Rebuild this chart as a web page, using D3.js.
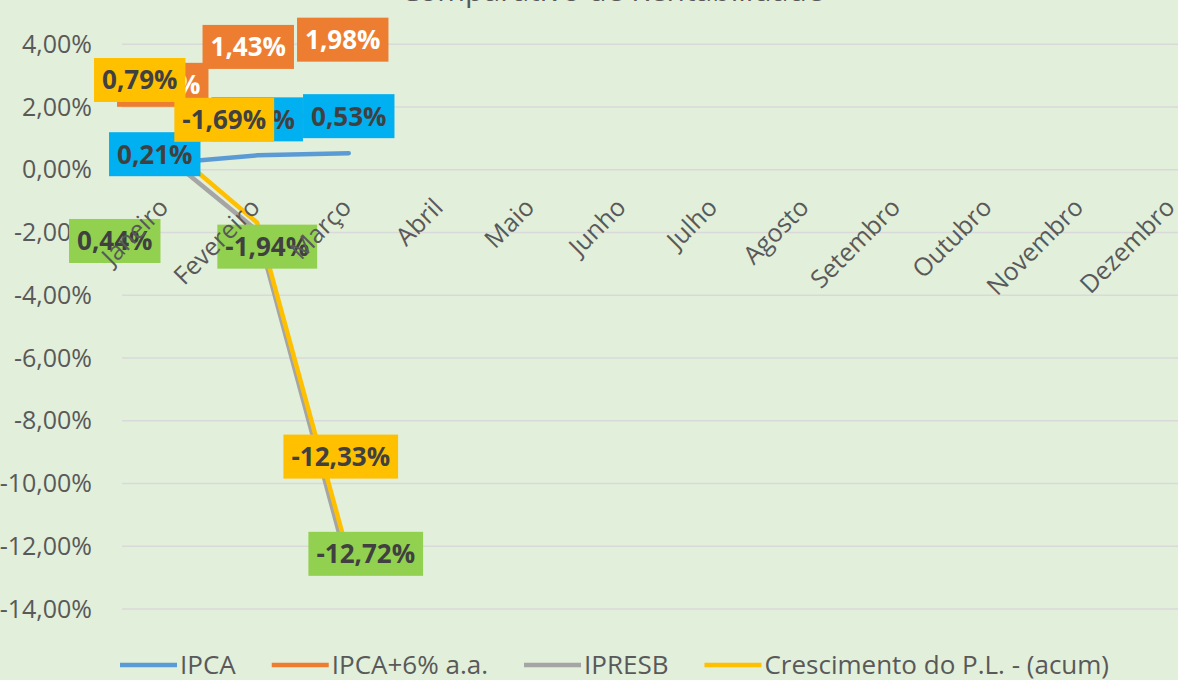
<!DOCTYPE html>
<meta charset="utf-8">
<style>
body { margin: 0; background: #E2EFDA; }
svg { display: block; font-family: "Open Sans", sans-serif; }
.grid line { stroke: #D9D9D9; stroke-width: 1.5; }
.axis text { fill: #595959; font-size: 25px; }
.dlabel text { font-size: 26px; font-weight: bold; }
.legend text { fill: #595959; font-size: 26px; }
</style>
<body>
<svg id="chart" width="1178" height="680"></svg>
<script src="https://cdn.jsdelivr.net/npm/d3@7"></script>
<script>

var width = 1178,
  height = 680;

// data (in %)
var months = ["Janeiro", "Fevereiro", "Março", "Abril", "Maio", "Junho",
  "Julho", "Agosto", "Setembro", "Outubro", "Novembro", "Dezembro"];
var ipca = [0.21, 0.46, 0.53];
var ipca6 = [0.70, 1.43, 1.98];
var ipresb = [0.44, -1.94, -12.72];
var crescimento = [0.79, -1.69, -12.33];
var yTicks = [4, 2, 0, -2, -4, -6, -8, -10, -12, -14];

// labels were dragged around by hand in the original, so keep the nudges here
var series = [
  { name: "IPCA", values: ipca, color: "#5B9BD5", box: "#00B0F0", text: "#404040",
    nudge: [[-11, -9], [0, -36], [0, -37]] },
  { name: "IPCA+6% a.a.", values: ipca6, color: "#ED7D31", box: "#ED7D31", text: "#FFFFFF",
    nudge: [[-3, -63], [-9, -78], [-6, -68]] },
  { name: "IPRESB", values: ipresb, color: "#A5A5A5", box: "#92D050", text: "#404040",
    nudge: [[-51, 85], [10, 16], [17, -15]] },
  { name: "Crescimento do P.L. - (acum)", values: crescimento, color: "#FFC000", box: "#FFC000", text: "#404040",
    nudge: [[-26, -65], [-33, -103], [-8, -100]] }
];

var svg = d3.select("#chart");

var x = d3.scaleBand()
  .domain(months)
  .range([120, 1218]);

var y = d3.scaleLinear()
  .domain([-14, 4])
  .range([609, 44.3]);

var fmt = function(d) { return d3.format(".2f")(d).replace(".", ",").replace("\u2212", "-") + "%"; };
var cx = function(i) { return x(months[i]) + x.bandwidth() / 2; };

// title (mostly cut off at the top)
svg.append("text")
  .attr("x", 612)
  .attr("y", 0.8)
  .attr("text-anchor", "middle")
  .attr("fill", "#595959")
  .style("font-size", "30px")
  .text("Comparativo de Rentabilidade");

// gridlines
svg.append("g")
  .attr("class", "grid")
  .selectAll("line")
  .data(yTicks)
  .enter().append("line")
  .attr("x1", 122)
  .attr("x2", width)
  .attr("y1", function(d) { return y(d); })
  .attr("y2", function(d) { return y(d); });

// y axis
var yAxis = svg.append("g")
  .attr("class", "axis")
  .attr("transform", "translate(120,0)")
  .call(d3.axisLeft(y).tickValues(yTicks).tickFormat(fmt).tickSize(0).tickPadding(28));
yAxis.select(".domain").remove();
yAxis.selectAll("text").attr("fill", "#595959").style("font-size", "25px").style("font-family", "Open Sans");

// lines
var line = d3.line()
  .x(function(d, i) { return cx(i); })
  .y(function(d) { return y(d); });

svg.append("g")
  .selectAll("path")
  .data(series)
  .enter().append("path")
  .attr("fill", "none")
  .attr("stroke", function(s) { return s.color; })
  .attr("stroke-width", 4.5)
  .attr("stroke-linecap", "round")
  .attr("stroke-linejoin", "round")
  .attr("d", function(s) { return line(s.values); });

// data labels
series.forEach(function(s) {
  var g = svg.append("g").attr("class", "dlabel");
  s.values.forEach(function(v, i) {
    var px = cx(i) + s.nudge[i][0],
      py = y(v) + s.nudge[i][1];
    var lab = g.append("g").attr("transform", "translate(" + px + "," + py + ")");
    var rect = lab.append("rect").attr("fill", s.box);
    var t = lab.append("text")
      .attr("text-anchor", "middle")
      .attr("dy", "0.36em")
      .attr("fill", s.text)
      .text(fmt(v));
    var w = t.node().getComputedTextLength() + 16;
    rect.attr("x", -w / 2).attr("y", -22).attr("width", w).attr("height", 44);
  });
});

// x labels, rotated, sitting just under the zero line (drawn over the labels like the original)
svg.append("g")
  .attr("class", "axis")
  .selectAll("text")
  .data(months)
  .enter().append("text")
  .attr("text-anchor", "end")
  .attr("dy", "0.35em")
  .attr("transform", function(d) { return "translate(" + (x(d) + x.bandwidth() / 2 - 2) + "," + (y(0) + 33) + ") rotate(-45)"; })
  .text(function(d) { return d; });

// legend
var legend = svg.append("g").attr("class", "legend");
var lx = 120;
series.forEach(function(s) {
  legend.append("line")
    .attr("x1", lx).attr("x2", lx + 57)
    .attr("y1", 665).attr("y2", 665)
    .attr("stroke", s.color)
    .attr("stroke-width", 4.5);
  var t = legend.append("text")
    .attr("x", lx + 60)
    .attr("y", 665)
    .attr("dy", "0.35em")
    .text(s.name);
  lx += 60 + t.node().getComputedTextLength() + 36;
});

</script>
